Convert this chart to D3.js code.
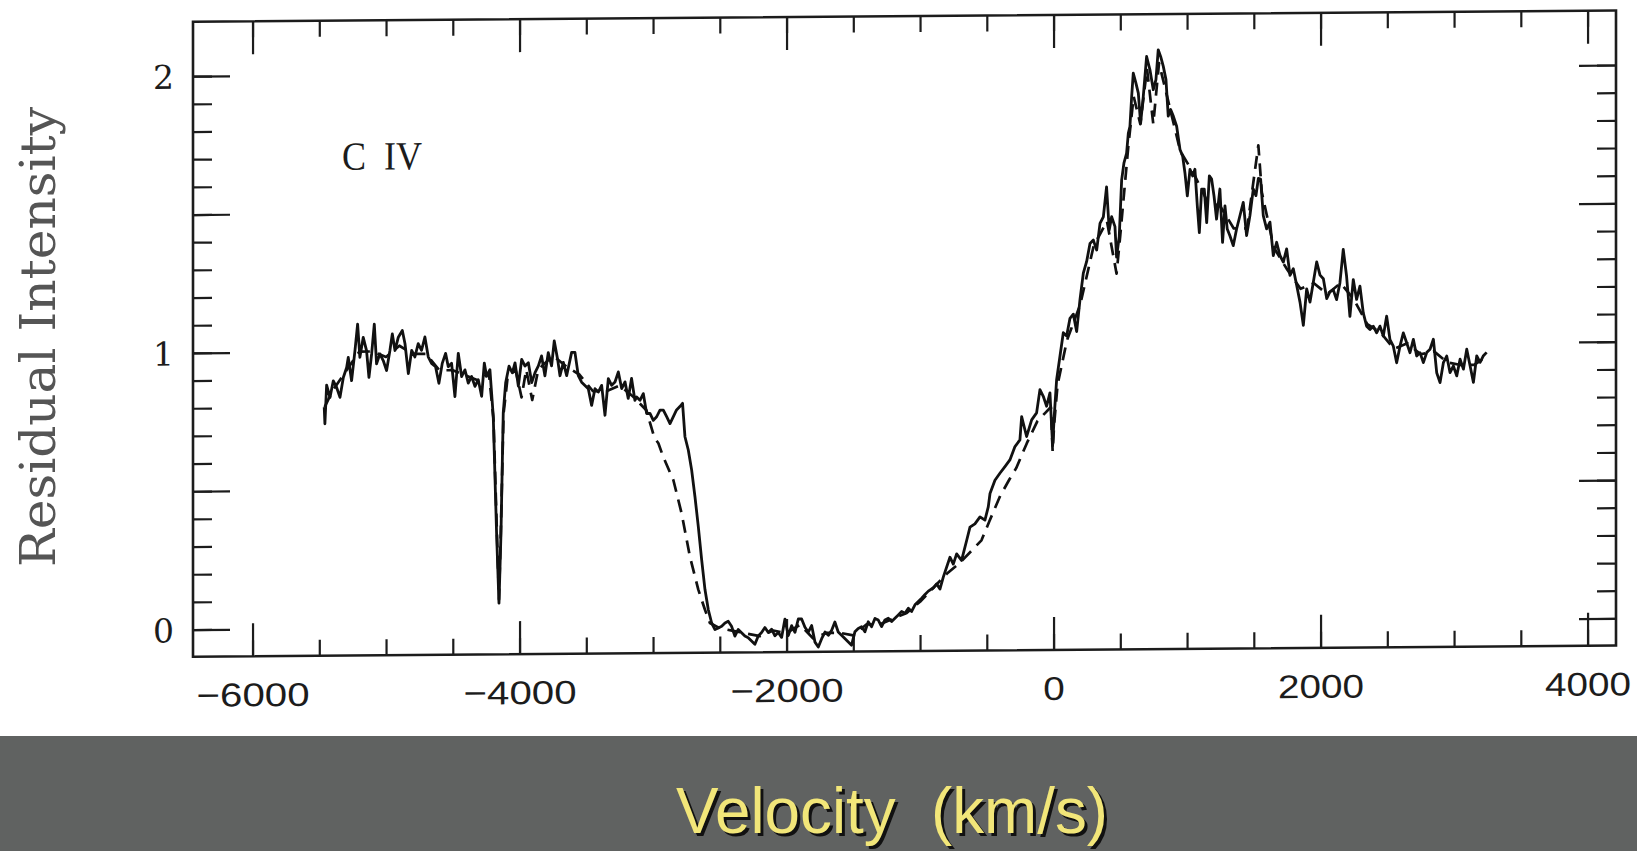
<!DOCTYPE html>
<html><head><meta charset="utf-8">
<script src="https://cdn.jsdelivr.net/npm/d3@7"></script>
<style>html,body{margin:0;padding:0;background:#fff;overflow:hidden}</style>
</head><body>
<svg id="chart" width="1637" height="851"></svg>
<script>
// Solid spectrum (velocity km/s, residual intensity)
const velocity = [-5463,-5458,-5445,-5420,-5395,-5370,-5345,-5320,-5295,-5283,-5258,-5233,-5213,-5196,-5171,-5146,-5128,-5108,-5088,-5071,-5046,-5021,-4996,-4971,-4953,-4933,-4908,-4878,-4858,-4833,-4808,-4784,-4759,-4734,-4709,-4684,-4659,-4629,-4604,-4579,-4554,-4534,-4509,-4484,-4459,-4434,-4409,-4384,-4359,-4334,-4309,-4284,-4264,-4247,-4222,-4197,-4172,-4154,-4139,-4122,-4104,-4079,-4054,-4034,-4009,-3984,-3959,-3934,-3909,-3884,-3859,-3835,-3810,-3785,-3760,-3740,-3715,-3697,-3672,-3647,-3610,-3585,-3560,-3535,-3510,-3485,-3460,-3435,-3410,-3385,-3360,-3335,-3310,-3285,-3260,-3235,-3210,-3186,-3161,-3136,-3123,-3098,-3073,-3048,-3023,-2998,-2973,-2948,-2923,-2898,-2873,-2848,-2824,-2799,-2779,-2761,-2736,-2711,-2686,-2661,-2636,-2611,-2586,-2561,-2536,-2511,-2486,-2461,-2437,-2412,-2387,-2362,-2337,-2312,-2287,-2262,-2237,-2212,-2187,-2162,-2137,-2112,-2087,-2062,-2037,-2012,-1987,-1962,-1937,-1912,-1887,-1862,-1837,-1812,-1787,-1762,-1737,-1712,-1687,-1662,-1638,-1613,-1588,-1513,-1488,-1463,-1438,-1413,-1388,-1363,-1338,-1313,-1288,-1263,-1238,-1213,-1188,-1163,-1138,-1113,-1088,-1063,-1038,-1013,-988,-963,-938,-900,-876,-851,-826,-776,-751,-726,-689,-651,-626,-589,-551,-514,-489,-476,-439,-402,-364,-327,-289,-252,-239,-202,-164,-127,-102,-77,-52,-27,-7,5,23,48,73,98,123,148,173,198,223,248,273,298,323,348,373,397,417,435,460,472,492,510,527,547,560,572,585,597,617,635,652,672,697,722,747,767,784,802,822,842,859,877,897,922,947,967,984,1002,1022,1042,1059,1077,1092,1109,1129,1147,1167,1184,1202,1221,1246,1266,1284,1301,1321,1346,1371,1396,1421,1446,1471,1496,1516,1534,1551,1571,1596,1621,1646,1671,1696,1721,1746,1771,1796,1821,1846,1871,1896,1921,1946,1971,1996,2021,2046,2070,2095,2120,2145,2170,2195,2220,2245,2270,2295,2320,2345,2370,2395,2420,2445,2470,2495,2520,2545,2570,2595,2620,2645,2670,2695,2720,2745,2770,2795,2820,2845,2870,2895,2920,2945,2970,2995,3020,3045,3070,3095,3120,3145,3170,3195,3220,3244];
const intensity = [0.80,0.74,0.88,0.835,0.895,0.871,0.835,0.907,0.943,0.979,0.895,1.003,1.099,0.979,1.051,1.003,0.907,0.991,1.099,0.955,0.991,0.967,0.931,1.003,1.063,1.003,1.051,1.075,1.027,0.919,1.003,0.979,1.027,1.003,1.051,0.979,0.955,0.943,0.883,0.955,0.991,0.943,0.955,0.835,0.991,0.907,0.931,0.883,0.907,0.871,0.895,0.835,0.955,0.907,0.931,0.763,0.340,0.087,0.340,0.775,0.883,0.943,0.919,0.955,0.871,0.967,0.943,0.955,0.883,0.919,0.943,0.979,0.907,0.991,0.943,1.033,0.967,0.907,0.955,0.907,0.991,0.991,0.907,0.883,0.871,0.859,0.799,0.859,0.847,0.871,0.763,0.895,0.871,0.883,0.919,0.859,0.883,0.823,0.895,0.816,0.828,0.816,0.840,0.768,0.768,0.743,0.756,0.780,0.780,0.756,0.731,0.756,0.780,0.792,0.804,0.683,0.635,0.563,0.466,0.358,0.238,0.130,0.057,0.009,-0.015,-0.009,-0.003,0.009,0.015,-0.003,-0.039,-0.015,-0.027,-0.039,-0.045,-0.057,-0.069,-0.039,-0.027,-0.009,-0.027,-0.015,-0.039,-0.027,-0.045,0.021,-0.039,-0.003,-0.027,0.021,0.021,-0.009,-0.027,-0.003,-0.063,-0.081,-0.051,-0.027,-0.039,-0.021,0.009,-0.027,-0.039,-0.075,-0.027,-0.015,-0.009,-0.027,0.009,-0.009,0.021,0.015,-0.009,0.015,0.021,0.009,0.021,0.033,0.045,0.039,0.057,0.045,0.069,0.081,0.093,0.106,0.118,0.130,0.144,0.125,0.168,0.240,0.215,0.252,0.228,0.300,0.348,0.360,0.385,0.373,0.421,0.469,0.517,0.542,0.566,0.590,0.638,0.662,0.746,0.674,0.734,0.759,0.843,0.819,0.783,0.831,0.640,0.746,0.879,0.963,1.048,1.036,1.100,1.115,1.052,1.167,1.263,1.305,1.370,1.382,1.346,1.442,1.466,1.574,1.418,1.466,1.430,1.320,1.394,1.598,1.659,1.695,1.767,1.791,1.899,1.984,1.948,1.912,1.803,1.899,2.044,1.996,1.924,1.960,2.068,2.044,2.008,1.960,1.828,1.852,1.828,1.791,1.707,1.683,1.623,1.539,1.635,1.611,1.635,1.502,1.406,1.563,1.563,1.442,1.611,1.599,1.538,1.454,1.563,1.370,1.502,1.418,1.394,1.358,1.418,1.466,1.514,1.394,1.466,1.562,1.538,1.600,1.598,1.466,1.418,1.442,1.321,1.369,1.321,1.297,1.345,1.249,1.273,1.213,1.152,1.068,1.200,1.152,1.224,1.297,1.249,1.236,1.164,1.188,1.196,1.160,1.220,1.341,1.244,1.099,1.232,1.160,1.208,1.111,1.063,1.051,1.063,1.039,1.063,1.027,1.099,1.014,0.990,0.930,0.990,1.038,1.002,0.966,1.014,0.954,0.966,0.930,0.966,0.978,1.014,0.893,0.857,0.929,0.953,0.893,0.917,0.881,0.941,0.905,0.977,0.917,0.857,0.953,0.929,0.953,0.965];

// Dashed comparison spectrum
const dashVelocity = [-5460,-5400,-5300,-5200,-5100,-5000,-4900,-4800,-4700,-4600,-4500,-4400,-4300,-4230,-4195,-4170,-4154,-4140,-4120,-4090,-4030,-3985,-3950,-3905,-3860,-3750,-3650,-3550,-3450,-3350,-3250,-3150,-3050,-2990,-2960,-2923,-2848,-2786,-2724,-2661,-2611,-2574,-2500,-2400,-2300,-2200,-2100,-2000,-1900,-1800,-1700,-1600,-1500,-1400,-1300,-1200,-1100,-1000,-900,-800,-700,-600,-540,-480,-400,-330,-280,-200,-120,-60,-20,-7,5,30,100,200,300,400,472,500,560,600,650,700,747,790,850,950,1050,1150,1250,1350,1450,1534,1560,1650,1750,1850,1950,2050,2150,2250,2350,2450,2550,2650,2750,2850,2950,3050,3150,3244];
const dashIntensity = [0.80,0.86,0.93,1.00,1.00,0.98,1.02,0.99,0.99,0.93,0.93,0.91,0.89,0.92,0.75,0.35,0.10,0.35,0.77,0.90,0.93,0.83,0.93,0.82,0.93,0.98,0.94,0.91,0.85,0.85,0.87,0.83,0.78,0.68,0.66,0.61,0.527,0.406,0.250,0.130,0.057,0.009,-0.01,-0.02,-0.03,-0.04,-0.02,-0.03,0.0,-0.05,-0.03,-0.03,-0.04,0.0,0.0,0.02,0.04,0.08,0.13,0.18,0.22,0.27,0.30,0.37,0.46,0.52,0.56,0.65,0.73,0.76,0.78,0.62,0.72,0.86,1.02,1.15,1.36,1.45,1.26,1.40,1.72,1.90,1.80,2.00,1.80,2.02,1.90,1.70,1.62,1.52,1.50,1.42,1.42,1.72,1.55,1.35,1.27,1.20,1.22,1.18,1.22,1.16,1.07,1.04,0.98,1.00,0.96,0.97,0.93,0.92,0.92,0.95];

const xTickValues = [-6000,-4000,-2000,0,2000,4000];
const xTickLabels = ["\u22126000","\u22124000","\u22122000","0","2000","4000"];
const yTickValues = [0,1,2];
const yTickLabels = ["0","1","2"];
const lineLabel = "C  IV";
const yTitle = "Residual Intensity";
const xTitle = "Velocity  (km/s)";

const svg = d3.select("#chart");
const x = d3.scaleLinear().domain([-6446, 4213]).range([193, 1616]);
const y = d3.scaleLinear().domain([-0.098, 2.197]).range([656.7, 21.7]);

// scanned figure is slightly skewed
const s = 0.00788;
const g = svg.append("g")
  .attr("transform", `translate(0,${(193*s).toFixed(2)}) skewY(${(-Math.atan(s)*180/Math.PI).toFixed(4)})`);

const ink = "#1c1c1c";
function styleAxis(sel){
  sel.select(".domain").remove();
  sel.selectAll(".tick line").attr("stroke", ink).attr("stroke-width", 2.2);
}
const xMinor = d3.range(-6000, 4001, 500);
const yMajor = [0, 0.5, 1, 1.5, 2];
const yMinor = d3.range(0, 21).map(i => i / 10);

// bottom
g.append("g").attr("transform", `translate(0,${y(-0.098)})`)
  .call(d3.axisBottom(x).tickValues(xMinor).tickSize(-16).tickFormat("")).call(styleAxis);
const xb = g.append("g").attr("transform", `translate(0,${y(-0.098)})`)
  .call(d3.axisBottom(x).tickValues(xTickValues).tickSize(-33).tickPadding(0)
    .tickFormat((d,i) => xTickLabels[i])).call(styleAxis);
xb.selectAll(".tick text")
  .attr("y", 50).attr("dy", 0)
  .attr("font-family", "'Liberation Sans', Arial, sans-serif")
  .attr("font-size", 33).attr("fill", ink)
  .attr("text-anchor", "middle")
  .attr("textLength", (d,i) => xTickLabels[i].replace("\u2212","").length * 21.5 + (xTickLabels[i].startsWith("\u2212") ? 27 : 0))
  .attr("lengthAdjust", "spacingAndGlyphs");
// top
g.append("g").attr("transform", `translate(0,${y(2.197)})`)
  .call(d3.axisTop(x).tickValues(xMinor).tickSize(-16).tickFormat("")).call(styleAxis);
g.append("g").attr("transform", `translate(0,${y(2.197)})`)
  .call(d3.axisTop(x).tickValues(xTickValues).tickSize(-33).tickFormat("")).call(styleAxis);
// left
g.append("g").attr("transform", `translate(${x(-6446)},0)`)
  .call(d3.axisLeft(y).tickValues(yMinor).tickSize(-19).tickFormat("")).call(styleAxis);
const yl = g.append("g").attr("transform", `translate(${x(-6446)},0)`)
  .call(d3.axisLeft(y).tickValues(yMajor).tickSize(-37)
    .tickFormat(d => { const k = yTickValues.indexOf(d); return k >= 0 ? yTickLabels[k] : ""; }))
  .call(styleAxis);
yl.selectAll(".tick text")
  .attr("x", -19).attr("dy", 12)
  .attr("font-family", "'DejaVu Serif', serif")
  .attr("font-size", 33).attr("fill", ink).attr("text-anchor", "end");
// right
g.append("g").attr("transform", `translate(${x(4213)},0)`)
  .call(d3.axisRight(y).tickValues(yMinor).tickSize(-19).tickFormat("")).call(styleAxis);
g.append("g").attr("transform", `translate(${x(4213)},0)`)
  .call(d3.axisRight(y).tickValues(yMajor).tickSize(-37).tickFormat("")).call(styleAxis);

// frame
g.append("rect")
  .attr("x", x(-6446)).attr("y", y(2.197))
  .attr("width", x(4213) - x(-6446)).attr("height", y(-0.098) - y(2.197))
  .attr("fill", "none").attr("stroke", ink).attr("stroke-width", 2.6);

// spectra
const line = d3.line().x(d => x(d[0])).y(d => y(d[1]));
g.append("path")
  .datum(dashVelocity.map((v,i) => [v, dashIntensity[i]]))
  .attr("d", line).attr("fill", "none").attr("stroke", "#111")
  .attr("stroke-width", 2.7).attr("stroke-dasharray", "13,8").attr("stroke-linejoin", "round");
g.append("path")
  .datum(velocity.map((v,i) => [v, intensity[i]]))
  .attr("d", line).attr("fill", "none").attr("stroke", "#111")
  .attr("stroke-width", 2.8).attr("stroke-linejoin", "round");

// line identification
g.append("text").attr("x", 342).attr("y", 171)
  .attr("font-family", "'Liberation Serif', 'Times New Roman', serif")
  .attr("font-size", 40).attr("fill", ink)
  .attr("textLength", 80).attr("lengthAdjust", "spacingAndGlyphs")
  .attr("xml:space", "preserve")
  .text(lineLabel);

// y-axis title
svg.append("text")
  .attr("transform", "translate(55,337) rotate(-90)")
  .attr("text-anchor", "middle")
  .attr("font-family", "'DejaVu Serif', serif")
  .attr("font-size", 48).attr("fill", "#555")
  .attr("textLength", 460).attr("lengthAdjust", "spacingAndGlyphs")
  .text(yTitle);

// bottom band with x title
svg.append("rect").attr("x", 0).attr("y", 736).attr("width", 1637).attr("height", 115).attr("fill", "#606261");
const tf = "'Liberation Sans', Arial, sans-serif";
svg.append("text").attr("x", 679).attr("y", 836)
  .attr("font-family", tf).attr("font-size", 64).attr("fill", "#111")
  .attr("textLength", 432).attr("lengthAdjust", "spacingAndGlyphs")
  .attr("xml:space", "preserve").text(xTitle);
svg.append("text").attr("x", 676).attr("y", 833)
  .attr("font-family", tf).attr("font-size", 64).attr("fill", "#f2e679")
  .attr("textLength", 432).attr("lengthAdjust", "spacingAndGlyphs")
  .attr("xml:space", "preserve").text(xTitle);
</script>
</body></html>
